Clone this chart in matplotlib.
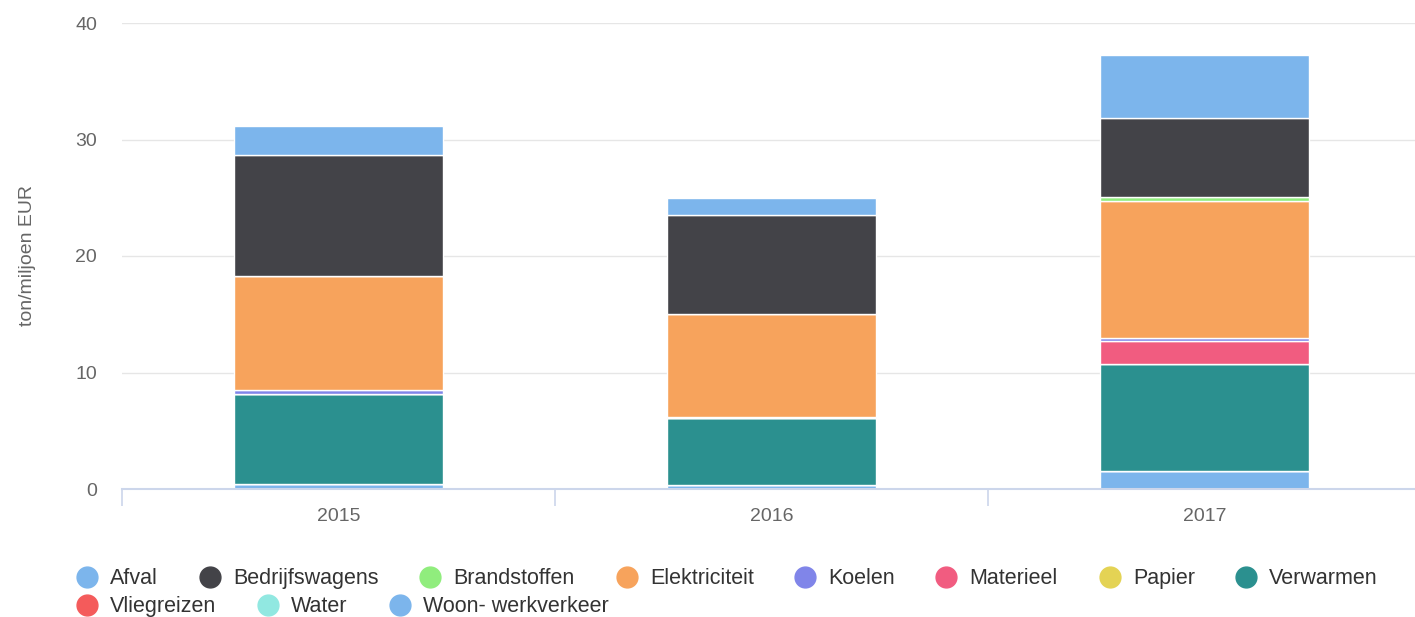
import matplotlib
matplotlib.use('Agg')
import matplotlib.pyplot as plt
from matplotlib.lines import Line2D
import numpy as np

plt.rcParams['font.family'] = ['Liberation Sans', 'DejaVu Sans']

# data (ton/miljoen EUR)
years = ['2015', '2016', '2017']
afval = [2.57, 1.45, 5.4]
bedrijfswagens = [10.35, 8.5, 6.8]
brandstoffen = [0.0, 0.0, 0.3]
elektriciteit = [9.8, 8.85, 11.8]
koelen = [0.3, 0.1, 0.25]
materieel = [0.0, 0.0, 1.95]
papier = [0.0, 0.0, 0.0]
verwarmen = [7.75, 5.75, 9.2]
vliegreizen = [0.0, 0.0, 0.0]
water = [0.0, 0.0, 0.0]
woon_werk = [0.43, 0.34, 1.55]

names = ['Afval', 'Bedrijfswagens', 'Brandstoffen', 'Elektriciteit', 'Koelen',
         'Materieel', 'Papier', 'Verwarmen', 'Vliegreizen', 'Water',
         'Woon- werkverkeer']
series = [afval, bedrijfswagens, brandstoffen, elektriciteit, koelen,
          materieel, papier, verwarmen, vliegreizen, water, woon_werk]
colors = ['#7cb5ec', '#434348', '#90ed7d', '#f7a35c', '#8085e9',
          '#f15c80', '#e4d354', '#2b908f', '#f45b5b', '#91e8e1', '#7cb5ec']

fig = plt.figure(figsize=(14.15, 6.17), dpi=100)
ax = fig.add_axes([122/1415, 1 - 489/617, 1299/1415, (489 - 23)/617])

x = np.arange(len(years))
bottom = np.zeros(len(years))
# first series sits on top, so stack in reverse order
for vals, col in zip(reversed(series), reversed(colors)):
    vals = np.array(vals)
    ax.bar(x, vals, 0.484, bottom=bottom, color=col, edgecolor='white',
           linewidth=1, zorder=3)
    bottom += vals

ax.set_xlim(-0.5, 2.5)
ax.set_ylim(0, 40)
ax.set_yticks([0, 10, 20, 30, 40])
ax.yaxis.grid(True, color='#e6e6e6', linewidth=1, zorder=0)
ax.tick_params(axis='y', length=0, pad=18, labelsize=14, labelcolor='#666666')

ax.set_xticks(x)
ax.set_xticklabels(years)
ax.set_xticks([-0.5, 0.5, 1.5, 2.5], minor=True)
ax.tick_params(axis='x', which='major', length=0, pad=14, labelsize=14,
               labelcolor='#666666')
ax.tick_params(axis='x', which='minor', length=12, width=1.2, color='#ccd6eb')

for s in ['top', 'right', 'left']:
    ax.spines[s].set_visible(False)
ax.spines['bottom'].set_color('#ccd6eb')
ax.spines['bottom'].set_linewidth(1.5)
ax.spines['bottom'].set_zorder(4)

ax.set_ylabel('ton/miljoen EUR', fontsize=14, color='#666666', labelpad=28)

# legend laid out by hand, flowing like the original
leg_pos = [(87, 577), (210, 577), (430, 577), (627, 577), (805, 577),
           (946, 577), (1110, 577), (1246, 577),
           (87, 605), (268, 605), (400, 605)]
for (px, py), name, col in zip(leg_pos, names, colors):
    fx, fy = px / 1415, 1 - py / 617
    fig.add_artist(Line2D([fx], [fy], marker='o', markersize=15, color=col,
                          linestyle='none', transform=fig.transFigure))
    fig.text(fx + 23 / 1415, fy - 1.5 / 617, name, fontsize=15.5,
             color='#333333', va='center', ha='left')

fig.savefig('out.png', dpi=100, facecolor='white')
